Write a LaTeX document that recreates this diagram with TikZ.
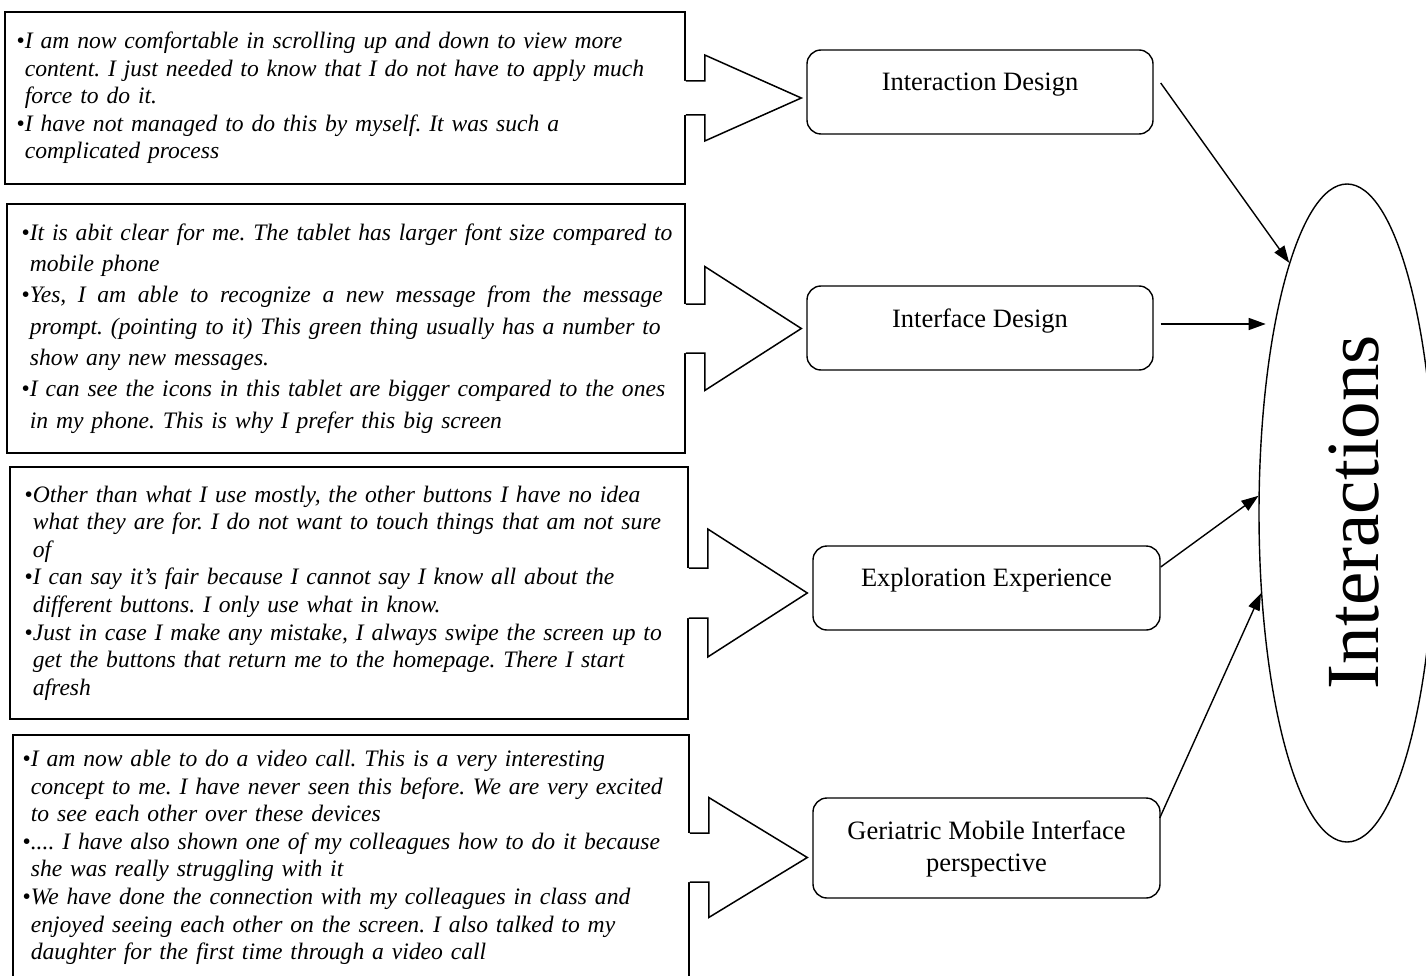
\documentclass[tikz,border=0pt]{standalone}
\usepackage{fontspec}
\setmainfont{Liberation Serif}
\usetikzlibrary{arrows.meta,calc,shapes.geometric}

% bullet and hanging indent for the quotation boxes
\newcommand\bul{\makebox[8.4pt][l]{•}}
\newcommand\ind{\hspace*{8.4pt}}
% a line spread to a given width
\newcommand\spreadline[2]{{\spaceskip=0.25em plus 3em\makebox[#1][s]{#2}}}

% wide hollow arrow from a quotation box to its theme box
\newcommand\blockarrow[4]{%
  \fill[white] let \p1=(#1.east), \p2=(#2.west) in
    (\x1-2pt,\y1+#3) -- (\x1+19pt,\y1+#3) -- (\x1+19pt,\y1+#4) -- (\x2-5pt,\y1)
    -- (\x1+19pt,\y1-#4) -- (\x1+19pt,\y1-#3) -- (\x1-2pt,\y1-#3) -- cycle;
  \draw[bar] let \p1=(#1.east), \p2=(#2.west) in
    (\x1,\y1+#3) -- (\x1+19pt,\y1+#3) -- (\x1+19pt,\y1+#4) -- (\x2-5pt,\y1)
    -- (\x1+19pt,\y1-#4) -- (\x1+19pt,\y1-#3) -- (\x1,\y1-#3);
}

\tikzset{
  quote/.style={draw, line width=1.5pt, rectangle, inner sep=0pt},
  quotetext/.style={anchor=west, inner sep=0pt, align=left, text width=700pt,
    font=\fontsize{23.6}{27.6}\selectfont\itshape},
  theme/.style={draw, line width=1.4pt, rounded corners=14pt, inner sep=0pt},
  themetext/.style={font=\fontsize{26.5}{32}\selectfont, align=center, inner sep=0pt},
  conn/.style={line width=1.4pt, -{Triangle[length=17pt,width=12pt]}},
  bar/.style={line width=1.5pt, line join=miter},
}

\begin{document}
\frenchspacing
\begin{tikzpicture}[x=1pt, y=-1pt]
\useasboundingbox (0,0) rectangle (1426,976);
\fill[white] (0,0) rectangle (1426,976);
\clip (0,0) rectangle (1426,976);

% quotation boxes
\node[quote, minimum width=680pt, minimum height=172pt] (q1) at (345,98) {};
\node[quote, minimum width=678pt, minimum height=249pt] (q2) at (346,328.5) {};
\node[quote, minimum width=678pt, minimum height=252pt] (q3) at (349,593) {};
\node[quote, minimum width=676pt, minimum height=245pt] (q4) at (351,857.5) {};

\node[quotetext] (q1t) at ([xshift=12pt]q1.west) {%
\bul I am now comfortable in scrolling up and down to view more\\
\ind content. I just needed to know that I do not have to apply much\\
\ind force to do it.\\
\bul I have not managed to do this by myself. It was such a\\
\ind complicated process};

\node[quotetext, font=\fontsize{23.6}{31.3}\selectfont\itshape] (q2t) at ([xshift=15pt]q2.west) {%
\bul It is abit clear for me. The tablet has larger font size compared to\\
\ind mobile phone\\
\bul\spreadline{633pt}{Yes, I am able to recognize a new message from the message}\\
\ind prompt. (pointing to it) This green thing usually has a number to\\
\ind show any new messages.\\
\bul I can see the icons in this tablet are bigger compared to the ones\\
\ind in my phone. This is why I prefer this big screen};

\node[quotetext] (q3t) at ([xshift=15pt]q3.west) {%
\bul Other than what I use mostly, the other buttons I have no idea\\
\ind what they are for. I do not want to touch things that am not sure\\
\ind of\\
\bul I can say it’s fair because I cannot say I know all about the\\
\ind different buttons. I only use what in know.\\
\bul Just in case I make any mistake, I always swipe the screen up to\\
\ind get the buttons that return me to the homepage. There I start\\
\ind afresh};

\node[quotetext] (q4t) at ([xshift=10pt]q4.west) {%
\bul I am now able to do a video call. This is a very interesting\\
\ind concept to me. I have never seen this before. We are very excited\\
\ind to see each other over these devices\\
\bul.... I have also shown one of my colleagues how to do it because\\
\ind she was really struggling with it\\
\bul We have done the connection with my colleagues in class and\\
\ind enjoyed seeing each other on the screen. I also talked to my\\
\ind daughter for the first time through a video call};

% theme boxes
\node[theme, minimum width=346pt, minimum height=84pt] (r1) at (980,92) {};
\node[theme, minimum width=346pt, minimum height=84pt] (r2) at (980,328) {};
\node[theme, minimum width=347pt, minimum height=84pt] (r3) at (986.5,588) {};
\node[theme, minimum width=347pt, minimum height=100pt] (r4) at (986.5,848) {};

\node[themetext] (r1t) at (980,85) {Interaction Design};
\node[themetext] (r2t) at (980,321) {Interface Design};
\node[themetext] (r3t) at (986.5,580.5) {Exploration Experience};
\node[themetext] (r4t) at (986.5,849) {Geriatric Mobile Interface\\perspective};

% hollow arrows
\blockarrow{q1}{r1}{17pt}{43pt}
\blockarrow{q2}{r2}{24.5pt}{62pt}
\blockarrow{q3}{r3}{25pt}{64pt}
\blockarrow{q4}{r4}{24.5pt}{60pt}

% central concept
\node[draw, ellipse, line width=1.4pt, minimum width=176pt, minimum height=658pt, inner sep=0pt] (ell) at (1347,513) {};
\node[rotate=90, anchor=base, inner sep=0pt, font=\fontsize{75}{80}\selectfont] (ellt) at (1378,512) {Interactions};

% links to the central concept
\draw[conn] ([xshift=7pt,yshift=9pt]r1.east) -- (ell.103);
\draw[conn] ([xshift=7pt,yshift=4pt]r2.east) -- ++(105,0);
\draw[conn] ([yshift=21pt]r3.east) -- (ell.169.8);
\draw[conn] ([xshift=-1pt,yshift=30pt]r4.east) -- (ell.223.3);
\end{tikzpicture}
\end{document}
